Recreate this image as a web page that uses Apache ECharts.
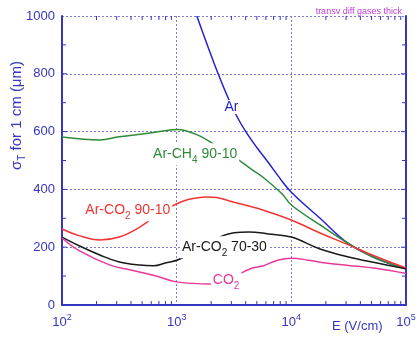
<!DOCTYPE html>
<html><head><meta charset="utf-8">
<script src="https://cdn.jsdelivr.net/npm/echarts@6/dist/echarts.min.js"></script>
<style>html,body{margin:0;padding:0;background:#fff}#c{width:420px;height:337px}</style>
</head><body><div id="c"></div>
<script>
// Field values E (V/cm) and sigma_T (um)
const arE   = [1500,1780,2300,2800,3400,4100,5000,6300,7900,10000,17800,31600,56000,100000];
const arV   = [1000,918,800,718,648,594,545,493,440,390,300,212,160,125];
const ch4E  = [100,141,214,316,562,794,1000,1200,1585,2040,2630,3390,4470,5620,8320,10000,17800,31600,56000,100000];
const ch4V  = [581,575,571,582,594,603,607,603,585,560,532,505,470,443,384,346,277,212,160,125];
const co29E = [100,141,214,316,479,708,955,1260,1820,2240,2880,5620,10000,17800,31600,56000,100000];
const co29V = [263,240,225,235,270,318,346,365,374,372,360,329,294,249,208,166,128];
const co27E = [100,141,214,316,479,631,794,1070,1580,2510,3160,4270,6310,10000,17800,31600,56000,100000];
const co27V = [235,205,173,149,138,136,145,159,200,239,250,253,246,235,194,166,145,125];
const co2E  = [100,141,263,398,708,1000,1950,2690,3550,4570,5620,7590,10000,14100,20000,31600,56000,100000];
const co2V  = [232,188,138,121,97,80,73,87,108,128,135,155,162,155,145,137,126,109];
const seriesNames = ['Ar','Ar-CH4 90-10','Ar-CO2 90-10','Ar-CO2 70-30','CO2'];
const xTicks = [100,1000,10000,100000];
const xMinorTicks = [200,300,400,500,600,700,800,900,2000,3000,4000,5000,6000,7000,8000,9000,
                     20000,30000,40000,50000,60000,70000,80000,90000];
const yTicks = [0,200,400,600,800,1000];
const yMinorTicks = [100,200,300,400,500,600,700,800,900];

const pair = (xs, ys) => xs.map((x, i) => [x, ys[i]]);

const AX = '#3636c0';
const font = 'Liberation Sans, Arial, sans-serif';
const X0 = xTicks[0], X1 = xTicks[xTicks.length - 1], Y0 = yTicks[0], Y1 = yTicks[yTicks.length - 1];

function lbl(E, v, text, color) {
  return {
    symbol: 'circle', symbolSize: 1, silent: true,
    itemStyle: {color: 'rgba(0,0,0,0)'},
    data: [{coord: [E, v]}],
    label: {show: true, position: 'inside', formatter: text, color: color,
      fontFamily: font, fontSize: 14, backgroundColor: '#fff', padding: [0, 2],
      rich: {m: {fontSize: 14, color: color, fontFamily: font},
             s: {fontSize: 10, color: color, fontFamily: font, padding: [12, 0, 0, 0]}}}
  };
}
function line(name, data, color, mp) {
  return {name: name, type: 'line', data: data, smooth: 0.4, showSymbol: false,
    xAxisIndex: 0, yAxisIndex: 0, clip: true,
    lineStyle: {color: color, width: 1.5}, itemStyle: {color: color},
    markPoint: mp, z: 3};
}
function seg(x1, y1, x2, y2) {
  return {type: 'line', shape: {x1: x1, y1: y1, x2: x2, y2: y2}, style: {stroke: AX, lineWidth: 1}};
}

const chart = echarts.init(document.getElementById('c'), null, {renderer: 'canvas'});
chart.setOption({
  animation: false,
  backgroundColor: '#fff',
  textStyle: {fontFamily: font},
  title: [
    {text: 'transv diff gases thick', right: 13, top: 2,
      textStyle: {fontSize: 9, fontWeight: 'normal', color: '#c040d8', fontFamily: font}},
    {text: 'E (V/cm)', left: 327, top: 315,
      textStyle: {fontSize: 13, fontWeight: 'normal', color: AX, fontFamily: font}}
  ],
  grid: {left: 62, right: 14, top: 16, bottom: 32, containLabel: false, outerBoundsMode: 'none'},
  xAxis: [
    {type: 'log', logBase: 10, min: X0, max: X1, position: 'bottom',
      axisLine: {show: true, lineStyle: {color: AX, width: 2}},
      axisTick: {show: false},
      splitLine: {show: true, lineStyle: {color: '#7a7ad8', width: 1, type: [2, 2]}},
      axisLabel: {margin: 8, color: AX,
        formatter: v => '{b|10}{s|' + Math.round(Math.log10(v)) + '}',
        rich: {b: {fontSize: 13, color: AX, fontFamily: font}, s: {fontSize: 9, color: AX, fontFamily: font, padding: [0, 0, 9, 0]}}}},
    {type: 'log', logBase: 10, min: X0, max: X1, position: 'top',
      axisLine: {show: true, lineStyle: {color: AX, width: 2}},
      axisTick: {show: false}, axisLabel: {show: false}, splitLine: {show: false}}
  ],
  yAxis: [
    {type: 'value', min: Y0, max: Y1, interval: 200, position: 'left',
      name: '{m|σ}{s|T}{m| for 1 cm (μm)}', nameLocation: 'middle', nameGap: 35, nameRotate: 90,
      nameMoveOverlap: false,
      nameTextStyle: {color: AX, padding: [0, 0, 0, 90],
        rich: {m: {fontSize: 15, color: AX, fontFamily: font}, s: {fontSize: 10, color: AX, fontFamily: font, padding: [10, 0, 0, 0]}}},
      axisLine: {show: true, lineStyle: {color: AX, width: 2}},
      axisTick: {show: false},
      splitLine: {show: true, lineStyle: {color: '#7a7ad8', width: 1, type: [2, 2]}},
      axisLabel: {color: AX, fontSize: 13, margin: 7, fontFamily: font, formatter: v => String(v)}},
    {type: 'value', min: Y0, max: Y1, interval: 200, position: 'right',
      axisLine: {show: true, lineStyle: {color: AX, width: 2}},
      axisTick: {show: false}, splitLine: {show: false}, axisLabel: {show: false}}
  ],
  series: [
    line(seriesNames[0], pair(arE, arV), '#2323c8', lbl(3000, 685, 'Ar', '#2323c8')),
    line(seriesNames[1], pair(ch4E, ch4V), '#2f8a3a', lbl(1450, 522, '{m|Ar-CH}{s|4}{m| 90-10}', '#2f8a3a')),
    line(seriesNames[2], pair(co29E, co29V), '#f03434', lbl(375, 328, '{m|Ar-CO}{s|2}{m| 90-10}', '#f03434')),
    line(seriesNames[3], pair(co27E, co27V), '#1a1a1a', lbl(2610, 200, '{m|Ar-CO}{s|2}{m| 70-30}', '#1a1a1a')),
    line(seriesNames[4], pair(co2E, co2V), '#e8389a', lbl(2700, 86, '{m|CO}{s|2}', '#e8389a')),
    {type: 'custom', name: 'xticks', silent: true, clip: false, z: 4, xAxisIndex: 0, yAxisIndex: 0,
      data: xMinorTicks.map(v => [v, Y0]), encode: {x: 0, y: 1},
      renderItem: (p, api) => {
        const v = api.value(0), b = api.coord([v, Y0]), t = api.coord([v, Y1]);
        return {type: 'group', children: [seg(b[0], b[1], b[0], b[1] - 4), seg(t[0], t[1], t[0], t[1] + 4)]};
      }},
    {type: 'custom', name: 'yticks', silent: true, clip: false, z: 4, xAxisIndex: 0, yAxisIndex: 0,
      data: yMinorTicks.map(v => [X0, v]), encode: {x: 0, y: 1},
      renderItem: (p, api) => {
        const v = api.value(1), l = api.coord([X0, v]), r = api.coord([X1, v]);
        const len = (v % 200 === 0) ? 5 : 4;
        return {type: 'group', children: [seg(l[0], l[1], l[0] + len, l[1]), seg(r[0], r[1], r[0] - len, r[1])]};
      }}
  ]
});
</script></body></html>
